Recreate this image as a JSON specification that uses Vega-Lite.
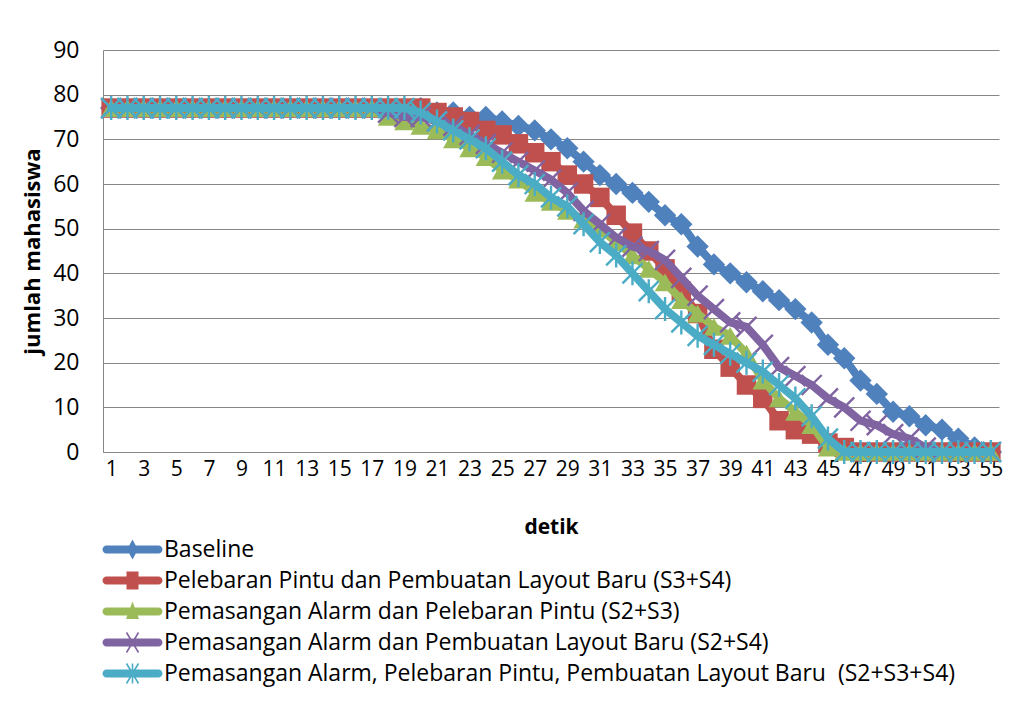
{
  "$schema": "https://vega.github.io/schema/vega-lite/v6.json",
  "width": 896,
  "height": 402,
  "autosize": {"type": "none"},
  "padding": {"left": 103, "top": 50, "right": 15, "bottom": 252},
  "background": "white",
  "config": {
    "font": "Open Sans",
    "view": {"stroke": null},
    "axis": {"labelFont": "Open Sans", "titleFont": "Open Sans", "labelColor": "#000000", "titleColor": "#000000"}
  },
  "data": {
    "values": [
      {"detik": 1, "B": 77, "R": 77, "G": 77, "P": 77, "C": 77},
      {"detik": 2, "B": 77, "R": 77, "G": 77, "P": 77, "C": 77},
      {"detik": 3, "B": 77, "R": 77, "G": 77, "P": 77, "C": 77},
      {"detik": 4, "B": 77, "R": 77, "G": 77, "P": 77, "C": 77},
      {"detik": 5, "B": 77, "R": 77, "G": 77, "P": 77, "C": 77},
      {"detik": 6, "B": 77, "R": 77, "G": 77, "P": 77, "C": 77},
      {"detik": 7, "B": 77, "R": 77, "G": 77, "P": 77, "C": 77},
      {"detik": 8, "B": 77, "R": 77, "G": 77, "P": 77, "C": 77},
      {"detik": 9, "B": 77, "R": 77, "G": 77, "P": 77, "C": 77},
      {"detik": 10, "B": 77, "R": 77, "G": 77, "P": 77, "C": 77},
      {"detik": 11, "B": 77, "R": 77, "G": 77, "P": 77, "C": 77},
      {"detik": 12, "B": 77, "R": 77, "G": 77, "P": 77, "C": 77},
      {"detik": 13, "B": 77, "R": 77, "G": 77, "P": 77, "C": 77},
      {"detik": 14, "B": 77, "R": 77, "G": 77, "P": 77, "C": 77},
      {"detik": 15, "B": 77, "R": 77, "G": 77, "P": 77, "C": 77},
      {"detik": 16, "B": 77, "R": 77, "G": 77, "P": 77, "C": 77},
      {"detik": 17, "B": 77, "R": 77, "G": 77, "P": 77, "C": 77},
      {"detik": 18, "B": 77, "R": 77, "G": 75, "P": 76, "C": 77},
      {"detik": 19, "B": 77, "R": 77, "G": 74, "P": 75, "C": 77},
      {"detik": 20, "B": 77, "R": 77, "G": 73, "P": 75, "C": 76},
      {"detik": 21, "B": 76, "R": 76, "G": 72, "P": 74, "C": 74},
      {"detik": 22, "B": 76, "R": 75, "G": 70, "P": 73, "C": 72},
      {"detik": 23, "B": 75, "R": 74, "G": 68, "P": 71, "C": 70},
      {"detik": 24, "B": 75, "R": 72, "G": 66, "P": 69, "C": 68},
      {"detik": 25, "B": 74, "R": 71, "G": 63, "P": 67, "C": 65},
      {"detik": 26, "B": 73, "R": 69, "G": 61, "P": 65, "C": 62},
      {"detik": 27, "B": 72, "R": 67, "G": 58, "P": 63, "C": 60},
      {"detik": 28, "B": 70, "R": 65, "G": 56, "P": 61, "C": 57},
      {"detik": 29, "B": 68, "R": 62, "G": 54, "P": 58, "C": 55},
      {"detik": 30, "B": 65, "R": 60, "G": 52, "P": 54, "C": 51},
      {"detik": 31, "B": 62, "R": 57, "G": 50, "P": 51, "C": 47},
      {"detik": 32, "B": 60, "R": 53, "G": 47, "P": 48, "C": 44},
      {"detik": 33, "B": 58, "R": 49, "G": 44, "P": 46, "C": 40},
      {"detik": 34, "B": 56, "R": 45, "G": 41, "P": 45, "C": 36},
      {"detik": 35, "B": 53, "R": 41, "G": 38, "P": 43, "C": 32},
      {"detik": 36, "B": 51, "R": 36, "G": 34, "P": 39, "C": 29},
      {"detik": 37, "B": 46, "R": 31, "G": 31, "P": 35, "C": 26},
      {"detik": 38, "B": 42, "R": 23, "G": 28, "P": 32, "C": 24},
      {"detik": 39, "B": 40, "R": 19, "G": 26, "P": 29, "C": 22},
      {"detik": 40, "B": 38, "R": 15, "G": 22, "P": 28, "C": 20},
      {"detik": 41, "B": 36, "R": 12, "G": 16, "P": 24, "C": 18},
      {"detik": 42, "B": 34, "R": 7, "G": 12, "P": 19, "C": 15},
      {"detik": 43, "B": 32, "R": 5, "G": 9, "P": 17, "C": 12},
      {"detik": 44, "B": 29, "R": 4, "G": 6, "P": 15, "C": 8},
      {"detik": 45, "B": 24, "R": 2, "G": 1, "P": 12, "C": 3},
      {"detik": 46, "B": 21, "R": 1, "G": 0, "P": 10, "C": 0},
      {"detik": 47, "B": 16, "R": 0, "G": 0, "P": 7, "C": 0},
      {"detik": 48, "B": 13, "R": 0, "G": 0, "P": 6, "C": 0},
      {"detik": 49, "B": 9, "R": 0, "G": 0, "P": 4, "C": 0},
      {"detik": 50, "B": 8, "R": 0, "G": 0, "P": 3, "C": 0},
      {"detik": 51, "B": 6, "R": 0, "G": 0, "P": 1, "C": 0},
      {"detik": 52, "B": 5, "R": 0, "G": 0, "P": 0, "C": 0},
      {"detik": 53, "B": 3, "R": 0, "G": 0, "P": 0, "C": 0},
      {"detik": 54, "B": 1, "R": 0, "G": 0, "P": 0, "C": 0},
      {"detik": 55, "B": 0, "R": 0, "G": 0, "P": 0, "C": 0}
    ]
  },
  "transform": [{"fold": ["B", "R", "G", "P", "C"], "as": ["k", "v"]}],
  "encoding": {
    "x": {
      "field": "detik", "type": "ordinal",
      "scale": {"padding": 0.5},
      "axis": {
        "title": "detik", "titleFontSize": 21, "titleFontWeight": "bold", "titlePadding": 37,
        "values": [1,3,5,7,9,11,13,15,17,19,21,23,25,27,29,31,33,35,37,39,41,43,45,47,49,51,53,55],
        "labelAngle": 0, "labelFontSize": 21, "labelPadding": 6, "ticks": false,
        "domainColor": "#868686", "domainWidth": 1, "grid": false, "labelOverlap": false
      }
    },
    "y": {
      "field": "v", "type": "quantitative",
      "scale": {"domain": [0, 90], "nice": false},
      "axis": {
        "title": "jumlah mahasiswa", "titleFontSize": 22, "titleFontWeight": "bold", "titlePadding": 8,
        "values": [0,10,20,30,40,50,60,70,80,90],
        "labelFontSize": 23, "labelPadding": 24, "ticks": false,
        "domainColor": "#868686", "domainWidth": 1,
        "grid": true, "gridColor": "#868686", "gridWidth": 1
      }
    }
  },
  "layer": [
    {"transform": [{"filter": "datum.k === 'B'"}],
     "mark": {"type": "line", "color": "#4F81BD", "strokeWidth": 8, "strokeJoin": "round", "strokeCap": "round"}},
    {"transform": [{"filter": "datum.k === 'B'"}],
     "mark": {"type": "point", "filled": true, "color": "#4F81BD", "opacity": 1, "strokeWidth": 0, "shape": "diamond", "size": 500}},
    {"transform": [{"filter": "datum.k === 'R'"}],
     "mark": {"type": "line", "color": "#C0504D", "strokeWidth": 8, "strokeJoin": "round", "strokeCap": "round"}},
    {"transform": [{"filter": "datum.k === 'R'"}],
     "mark": {"type": "point", "filled": true, "color": "#C0504D", "opacity": 1, "strokeWidth": 0, "shape": "square", "size": 380}},
    {"transform": [{"filter": "datum.k === 'G'"}],
     "mark": {"type": "line", "color": "#9BBB59", "strokeWidth": 8, "strokeJoin": "round", "strokeCap": "round"}},
    {"transform": [{"filter": "datum.k === 'G'"}],
     "mark": {"type": "point", "filled": true, "color": "#9BBB59", "opacity": 1, "strokeWidth": 0, "shape": "triangle-up", "size": 420}},
    {"transform": [{"filter": "datum.k === 'P'"}],
     "mark": {"type": "line", "color": "#8064A2", "strokeWidth": 8, "strokeJoin": "round", "strokeCap": "round"}},
    {"transform": [{"filter": "datum.k === 'P'"}],
     "mark": {"type": "point", "filled": true, "color": "#8064A2", "opacity": 1, "strokeWidth": 0, "size": 400,
       "shape": "M-0.915,-1.085L1.085,0.915L0.915,1.085L-1.085,-0.915Z M1.085,-0.915L-0.915,1.085L-1.085,0.915L0.915,-1.085Z"}},
    {"transform": [{"filter": "datum.k === 'C'"}],
     "mark": {"type": "line", "color": "#4BACC6", "strokeWidth": 8, "strokeJoin": "round", "strokeCap": "round"}},
    {"transform": [{"filter": "datum.k === 'C'"}],
     "mark": {"type": "point", "filled": true, "color": "#4BACC6", "opacity": 1, "strokeWidth": 0, "size": 400,
       "shape": "M-0.915,-1.085L1.085,0.915L0.915,1.085L-1.085,-0.915Z M1.085,-0.915L-0.915,1.085L-1.085,0.915L0.915,-1.085Z M-0.12,-1.2H0.12V1.2H-0.12Z"}},
    {"mark": {"type": "point", "filled": true, "opacity": 0, "strokeWidth": 0},
     "encoding": {
       "fill": {"field": "k", "type": "nominal", "scale": {"domain": ["B","R","G","P","C"], "range": ["#4F81BD","#C0504D","#9BBB59","#8064A2","#4BACC6"]},
         "legend": {
           "orient": "none", "legendX": 18, "legendY": 488, "title": null, "direction": "vertical",
           "symbolSize": 400, "symbolStrokeWidth": 0, "symbolOpacity": 1,
           "labelFont": "Open Sans", "labelFontSize": 23, "labelColor": "#000000", "labelOffset": 20, "labelLimit": 1000,
           "rowPadding": 7, "padding": 0,
           "labelExpr": "datum.value === 'B' ? 'Baseline' : datum.value === 'R' ? 'Pelebaran Pintu dan Pembuatan Layout Baru (S3+S4)' : datum.value === 'G' ? '\u00a0Pemasangan Alarm dan Pelebaran Pintu (S2+S3)' : datum.value === 'P' ? 'Pemasangan Alarm dan Pembuatan Layout Baru (S2+S4)' : 'Pemasangan Alarm, Pelebaran Pintu, Pembuatan Layout Baru \u00a0(S2+S3+S4)'"
         }},
       "shape": {"field": "k", "type": "nominal",
         "scale": {"domain": ["B","R","G","P","C"], "range": [
           "M-2.6,-0.4H2.6A0.4,0.4 0 0 1 2.6,0.4H-2.6A0.4,0.4 0 0 1 -2.6,-0.4Z M0,-1L0.55,0L0,1L-0.55,0Z",
           "M-2.6,-0.4H2.6A0.4,0.4 0 0 1 2.6,0.4H-2.6A0.4,0.4 0 0 1 -2.6,-0.4Z M-0.6,-0.9H0.6V0.9H-0.6Z",
           "M-2.6,-0.4H2.6A0.4,0.4 0 0 1 2.6,0.4H-2.6A0.4,0.4 0 0 1 -2.6,-0.4Z M0,-1L0.65,0.75H-0.65Z",
           "M-2.6,-0.4H2.6A0.4,0.4 0 0 1 2.6,0.4H-2.6A0.4,0.4 0 0 1 -2.6,-0.4Z M-0.531,-1.041L0.669,0.959L0.531,1.041L-0.669,-0.959Z M0.669,-0.959L-0.531,1.041L-0.669,0.959L0.531,-1.041Z",
           "M-2.6,-0.4H2.6A0.4,0.4 0 0 1 2.6,0.4H-2.6A0.4,0.4 0 0 1 -2.6,-0.4Z M-0.531,-1.041L0.669,0.959L0.531,1.041L-0.669,-0.959Z M0.669,-0.959L-0.531,1.041L-0.669,0.959L0.531,-1.041Z M-0.08,-1H0.08V1H-0.08Z"
         ]},
         "legend": {
           "orient": "none", "legendX": 18, "legendY": 488, "title": null, "direction": "vertical",
           "symbolSize": 400, "symbolStrokeWidth": 0, "symbolOpacity": 1,
           "labelFont": "Open Sans", "labelFontSize": 23, "labelColor": "#000000", "labelOffset": 20, "labelLimit": 1000,
           "rowPadding": 7, "padding": 0,
           "labelExpr": "datum.value === 'B' ? 'Baseline' : datum.value === 'R' ? 'Pelebaran Pintu dan Pembuatan Layout Baru (S3+S4)' : datum.value === 'G' ? '\u00a0Pemasangan Alarm dan Pelebaran Pintu (S2+S3)' : datum.value === 'P' ? 'Pemasangan Alarm dan Pembuatan Layout Baru (S2+S4)' : 'Pemasangan Alarm, Pelebaran Pintu, Pembuatan Layout Baru \u00a0(S2+S3+S4)'"
         }}
     }}
  ]
}
